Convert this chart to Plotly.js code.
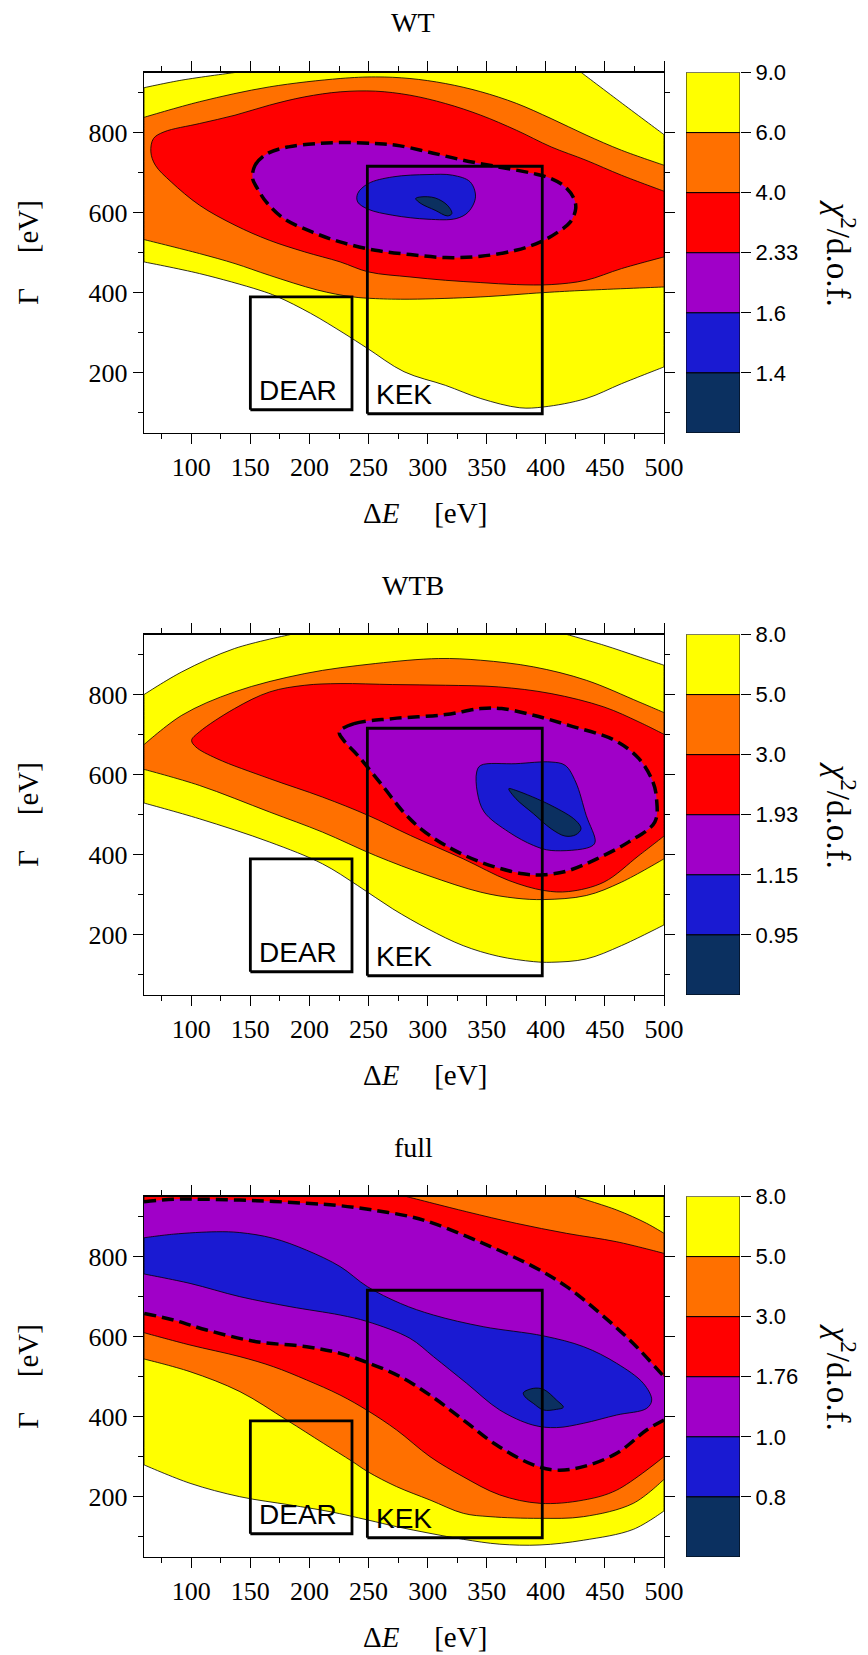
<!DOCTYPE html>
<html><head><meta charset="utf-8">
<script src="https://cdn.plot.ly/plotly-3.0.1.min.js"></script>
<style>html,body{margin:0;padding:0;background:#fff}#chart{width:868px;height:1655px}</style>
</head><body><div id="chart"></div>
<script>
// ---------------- data: contour boundaries (ΔE [eV], Γ [eV]) ----------------
const X_RANGE = [60, 500];
const Y_RANGE = [50, 950];

const PANEL_TITLES = ['WT', 'WTB', 'full'];
const LEVELS_WT   = ['9.0', '6.0', '4.0', '2.33', '1.6', '1.4'];
const LEVELS_WTB  = ['8.0', '5.0', '3.0', '1.93', '1.15', '0.95'];
const LEVELS_FULL = ['8.0', '5.0', '3.0', '1.76', '1.0', '0.8'];
// band colours from the highest level band down to the lowest
const BAND_COLORS = ['#ffff00', '#ff7000', '#ff0000', '#a000c8', '#1a1ad2', '#0b3060'];

const DEAR_X = [150, 236], DEAR_Y = [108, 390];
const KEK_X  = [249, 397], KEK_Y  = [98, 716];
const DEAR_LABEL = [156, 156], KEK_LABEL = [255, 147];

// ---- WT ----
const WT_Y_TOPLEFT  = [[60,912],[92,931],[137,950]];
const WT_Y_TOPRIGHT = [[430,950],[465,872],[500,795]];
const WT_Y_LOWER = [[500,215],[464,173],[434,136],[398,115],[378,113],[345,136],[315,169],[280,203],[249,261.4],[229.2,298.8],[201,348.7],[172.8,390.4],[157.3,407],[107,448],[60,477]];
const WT_O_UPPER = [[60,838],[107,877],[166,914],[226,935],[256,939],[285,935],[315,922.5],[345,902],[375,873],[404.5,835],[434,794],[464,756],[500,718.5]];
const WT_O_LOWER = [[500,414.6],[434,406.3],[398,400.5],[345,389.7],[285,384],[256,385.5],[236,390],[206.7,407],[166,443.8],[137,472.9],[107,497.9],[60,532.9]];
const WT_R = [[500,653.6],[464,693.6],[434,731],[404.5,764.3],[375,806],[345,843.4],[315,872.6],[285,893.4],[256,903.4],[226,901.7],[196,889.2],[166,868.4],[137,843.4],[107,822.6],[77,801.8],[68,785],[65.8,751.8],[69.6,718.5],[83,676.9],[107,618.6],[137,568.7],[166,531.2],[196,502.1],[226,477.1],[250,452.1],[285,439.6],[315,431.3],[345,425.5],[375,420.5],[404.5,420.5],[434,431.3],[464,460.4],[500,489.6]];
const WT_P = [[151.9,685.2],[154,718.5],[164.4,747.7],[182.2,764.3],[206,772.7],[229.8,775.2],[255.7,772.7],[273.5,768.5],[300.3,751.8],[330.1,731],[359.8,714.4],[389.6,697.7],[404.5,685.2],[416.4,664.4],[423.8,635.3],[425.3,610.3],[420.8,577],[410.4,552],[395.5,527],[374.7,506.2],[344.9,491.2],[315.2,487.9],[285.4,495.4],[255.7,506.2],[225.9,527],[202.1,552],[178.3,585.3],[163.4,626.9],[156,660.3]];
const WT_B = [[240.8,647.8],[249.7,672.7],[270.5,689.4],[300.3,695.2],[321.1,693.6],[336,676.9],[340.5,639.4],[334.5,602],[324.1,585.3],[300.3,583.7],[270.5,593.6],[249.7,608.6],[240.8,626.9]];
const WT_D = [[289.9,635.3],[294.3,639.4],[306.3,636.9],[316.7,618.6],[320.5,597.8],[316.7,592],[306.3,606.1],[294.3,622.8]];

// ---- WTB ----
const WTB_Y_TOPLEFT  = [[60,800],[92,856.7],[136.6,915],[184.2,950]];
const WTB_Y_TOPRIGHT = [[417.9,950],[449.1,923.3],[478.8,894.2],[500,873.3]];
const WTB_Y_LOWER = [[500,225],[464,173.3],[434.2,140],[404.5,131.7],[389.6,133.3],[359.8,146.7],[330,173.3],[300.3,215],[270.5,265],[240.8,323.3],[211,377.5],[166.4,431.7],[106.8,490],[60,529.2]];
const WTB_O_UPPER = [[60,675],[92,748.3],[136.6,806.7],[196.1,852.5],[255.7,877.5],[309.3,890],[344.9,885.8],[389.6,869.2],[434.2,835.8],[478.8,781.7],[500,755]];
const WTB_O_LOWER = [[500,390],[464,331.7],[434.2,298.3],[398.5,288.3],[374.7,291.7],[344.9,306.7],[300.3,348.3],[255.7,398.3],[211,456.7],[166.4,506.7],[106.8,573.3],[60,613.3]];
const WTB_R = [[500,700.8],[478.8,731.7],[449.1,769.2],[404.5,802.5],[359.8,819.2],[315.2,823.3],[270.5,825],[225.9,827.5],[196.1,823.3],[166.4,806.7],[136.6,765],[106.8,706.7],[100.3,685.8],[103.9,669.2],[121.7,640],[166.4,590],[211,544.2],[249.7,498.3],[285.4,448.3],[330,390],[368.7,335.8],[398.5,310.8],[419.4,308.3],[449.1,331.7],[478.8,398.3],[500,446.7]];
const WTB_P = [[225.3,706.7],[237.8,727.5],[270.5,740],[315.2,750],[344.9,765],[362.7,765],[389.6,748.3],[419.4,723.3],[458.2,685.8],[478.8,640],[490.7,581.7],[493.7,540],[492.2,481.7],[469.9,431.7],[443.2,390],[419.4,360.8],[398.5,350],[380.7,352.5],[344.9,381.7],[315.2,423.3],[294.3,465],[279.5,506.7],[261.6,573.3],[240.8,648.3],[228.9,685.8]];
const WTB_B = [[341.5,606.7],[344.9,623.3],[374.7,627.5],[404.5,631.7],[416.4,623.3],[425.3,581.7],[434.2,498.3],[441.7,431.7],[437.2,419.2],[404.5,410.8],[389.6,423.3],[368.7,456.7],[347.9,506.7],[342,556.7]];
const WTB_D = [[368.7,565],[374.7,560.8],[404.5,523.3],[425.3,485.8],[429.8,465],[425.3,450],[416.4,446.7],[404.5,465],[389.6,502.5],[374.7,540]];

// ---- full ----
const FULL_Y_LOWER = [[500,165],[474,119],[432,92],[395,80],[361,82],[330.2,94.1],[302,109.1],[273.8,125.7],[249.3,142.4],[217.4,163.2],[183.5,180],[141,200.6],[99,234],[60,280]];
const FULL_O_TOPRIGHT = [[424.7,950],[460,916.3],[485.3,883],[500,858]];
const FULL_O_LOWER = [[500,244],[474,184],[432,150.7],[395,146.5],[352.8,150.7],[330.2,159],[302,192.3],[273.8,225.6],[249.3,263],[236,289],[211.8,333.8],[180.7,392],[141.2,462.8],[98.9,512.7],[60,544.3]];
const FULL_R_UPPER = [[282,950],[333,912],[375,883],[417.6,858],[460,837],[500,808]];
const FULL_R_LOWER = [[500,300.5],[460,217],[431.7,192],[395,184],[361,205],[330,250.6],[302,300.5],[273.8,367],[249.3,415.3],[225.9,454.4],[197.6,491.9],[169.4,525.2],[141.2,550.1],[98.9,579.3],[60,610]];
const FULL_P_UPPER = [[60,937],[85,943],[113,943],[155,939.6],[197.6,933],[225.9,927],[254,916],[285,900],[305,883],[347,833],[389.4,775],[417.6,725],[446,658],[474,583],[500,500]];
const FULL_P_LOWER = [[500,392],[485.3,367],[460,309],[431.7,275.5],[409,267],[389.4,280],[358,330],[332,388],[304,450],[277,500],[249.3,535],[226,558.5],[197.6,575],[155,587.6],[113,616.7],[85,641.7],[60,658.3]];
const FULL_B = [[60,847],[85,856],[121.5,862],[141,860],[169,846],[197.6,816],[226,775],[249,725],[277,683],[305,654],[347,625],[398,602],[432,575],[460,533.5],[482.5,483.6],[489.6,442],[485.3,421],[460,404.5],[431.7,383.7],[409,373],[389,379.5],[361,417],[333,483.6],[305,550],[285,596],[249.3,637.5],[226,654],[183.5,675],[141,700],[99,733],[60,756.5]];
const FULL_D = [[381,460],[389.4,471],[398,468.6],[409,442],[414.8,423.7],[409,418.6],[398,417],[389.4,433.6],[382.4,450]];

const TL = [[X_RANGE[0], Y_RANGE[1]]], TR = [[X_RANGE[1], Y_RANGE[1]]];

// ---------------- panel definitions (regions from outermost to innermost) ----------------
const PANELS = [
  { levels: LEVELS_WT, regions: [
      {pieces:[WT_Y_TOPLEFT, WT_Y_TOPRIGHT, WT_Y_LOWER]},
      {pieces:[WT_O_UPPER, WT_O_LOWER]},
      {pieces:[WT_R]},
      {pieces:[WT_P], closed:true, dashed:[WT_P]},
      {pieces:[WT_B], closed:true},
      {pieces:[WT_D], closed:true}]},
  { levels: LEVELS_WTB, regions: [
      {pieces:[WTB_Y_TOPLEFT, WTB_Y_TOPRIGHT, WTB_Y_LOWER]},
      {pieces:[WTB_O_UPPER, WTB_O_LOWER]},
      {pieces:[WTB_R]},
      {pieces:[WTB_P], closed:true, dashed:[WTB_P]},
      {pieces:[WTB_B], closed:true},
      {pieces:[WTB_D], closed:true}]},
  { levels: LEVELS_FULL, regions: [
      {pieces:[TL, TR, FULL_Y_LOWER]},
      {pieces:[TL, FULL_O_TOPRIGHT, FULL_O_LOWER]},
      {pieces:[TL, FULL_R_UPPER, FULL_R_LOWER]},
      {pieces:[FULL_P_UPPER, FULL_P_LOWER], dashedOpen:[FULL_P_UPPER, FULL_P_LOWER]},
      {pieces:[FULL_B]},
      {pieces:[FULL_D], closed:true}]}
];

// ---------------- geometry (pixels) ----------------
const W = 868, H = 1655;
const PLOT_L = 144, PLOT_R = 664, PLOT_H = 360.5;
const PLOT_TOPS = [72.5, 634.5, 1196.5];
const CB_L = 686, CB_R = 740;
const SERIF = 'Liberation Serif';
const SANS = 'Liberation Sans';

function buildPoly(pieces, closed) {
  const xs = [], ys = [];
  if (closed) {
    const c = pieces[0];
    c.forEach(p => { xs.push(p[0]); ys.push(p[1]); });
    xs.push(c[0][0]); ys.push(c[0][1]);
    return {xs, ys};
  }
  pieces.forEach(c => {
    c.forEach((p, i) => {
      xs.push(p[0]); ys.push(p[1]);
      if (i === 0 || i === c.length - 1) { xs.push(p[0]); ys.push(p[1]); }
    });
  });
  xs.push(xs[0]); ys.push(ys[0]);
  return {xs, ys};
}

const traces = [];
const layout = {
  width: W, height: H, margin: {l:0, r:0, t:0, b:0},
  paper_bgcolor: '#fff', plot_bgcolor: '#fff', showlegend: false,
  annotations: [], shapes: []
};
const DASH = {color:'#000', width:3.5, dash:'12px,6px', shape:'spline', smoothing:1, simplify:false};

PANELS.forEach((panel, k) => {
  const n = k + 1;
  const xa = n === 1 ? 'x' : 'x' + n, ya = n === 1 ? 'y' : 'y' + n;
  const top = PLOT_TOPS[k];
  const yDom = [1 - (top + PLOT_H) / H, 1 - top / H];

  panel.regions.forEach((reg, j) => {
    const poly = buildPoly(reg.pieces, reg.closed);
    const isDashedRegion = !!(reg.dashed || reg.dashedOpen);
    traces.push({type:'scatter', mode:'lines', x:poly.xs, y:poly.ys, fill:'toself',
      fillcolor: BAND_COLORS[j],
      line:{color: isDashedRegion ? BAND_COLORS[j] : '#000', width: isDashedRegion ? 0 : 0.8, shape:'spline', smoothing:1, simplify:false},
      xaxis:xa, yaxis:ya, hoverinfo:'skip'});
    if (reg.dashed) {
      reg.dashed.forEach(c => {
        const p = buildPoly([c], true);
        traces.push({type:'scatter', mode:'lines', x:p.xs, y:p.ys, line:DASH, xaxis:xa, yaxis:ya, hoverinfo:'skip'});
      });
    }
    if (reg.dashedOpen) {
      reg.dashedOpen.forEach(c => {
        traces.push({type:'scatter', mode:'lines', x:c.map(p=>p[0]), y:c.map(p=>p[1]), line:DASH, xaxis:xa, yaxis:ya, hoverinfo:'skip'});
      });
    }
  });

  // experimental boxes
  [[DEAR_X, DEAR_Y], [KEK_X, KEK_Y]].forEach(([bx, by]) => {
    traces.push({type:'scatter', mode:'lines',
      x:[bx[0], bx[1], bx[1], bx[0], bx[0]], y:[by[0], by[0], by[1], by[1], by[0]],
      line:{color:'#000', width:2.8}, xaxis:xa, yaxis:ya, hoverinfo:'skip', cliponaxis:false});
  });
  layout.annotations.push(
    {x:DEAR_LABEL[0], y:DEAR_LABEL[1], xref:xa, yref:ya, text:'DEAR', showarrow:false, xanchor:'left', yanchor:'middle', font:{family:SANS, size:28, color:'#000'}},
    {x:KEK_LABEL[0], y:KEK_LABEL[1], xref:xa, yref:ya, text:'KEK', showarrow:false, xanchor:'left', yanchor:'middle', font:{family:SANS, size:28, color:'#000'}}
  );

  const axCommon = {showline:true, linecolor:'#000', linewidth:1.4, mirror:'allticks', ticks:'outside',
    tickcolor:'#000', tickwidth:1, ticklen:10, showgrid:false, zeroline:false,
    tickfont:{family:SERIF, size:26, color:'#000'}, fixedrange:true};
  layout[n === 1 ? 'xaxis' : 'xaxis' + n] = Object.assign({}, axCommon, {
    domain:[PLOT_L / W, PLOT_R / W], anchor: ya, range: X_RANGE, tick0:0, dtick:50,
    minor:{dtick:25, tick0:0, ticklen:5, tickcolor:'#000', tickwidth:1, ticks:'outside', showgrid:false}});
  layout[n === 1 ? 'yaxis' : 'yaxis' + n] = Object.assign({}, axCommon, {
    domain:yDom, anchor: xa, range: Y_RANGE, tick0:0, dtick:200,
    minor:{dtick:100, tick0:0, ticklen:5, tickcolor:'#000', tickwidth:1, ticks:'outside', showgrid:false}});

  // colour key
  const cn = n + 3;
  const cxa = 'x' + cn, cya = 'y' + cn;
  const nb = BAND_COLORS.length;
  traces.push({type:'bar', x:BAND_COLORS.map(() => 0), y:BAND_COLORS.map(() => 1),
    base:BAND_COLORS.map((c, i) => nb - 1 - i), width:1,
    marker:{color:BAND_COLORS, line:{color:'#000', width:1}},
    xaxis:cxa, yaxis:cya, hoverinfo:'skip', cliponaxis:false});
  layout['xaxis' + cn] = {domain:[CB_L / W, CB_R / W], anchor:cya, range:[-0.5, 0.5], visible:false, fixedrange:true};
  layout['yaxis' + cn] = {domain:yDom, anchor:cxa, side:'right', range:[0, nb],
    tickvals: panel.levels.map((l, i) => nb - i), ticktext: panel.levels,
    ticks:'outside', ticklen:10, tickcolor:'#000', tickwidth:1, showgrid:false, zeroline:false, showline:false,
    tickfont:{family:SANS, size:22, color:'#000'}, fixedrange:true};

  // titles
  layout.annotations.push(
    {x:413 / W, y:1 - (top - 49.5) / H, xref:'paper', yref:'paper', text:PANEL_TITLES[k], showarrow:false,
     xanchor:'center', yanchor:'middle', font:{family:SERIF, size:28, color:'#000'}},
    {x:425 / W, y:1 - (top + PLOT_H + 80) / H, xref:'paper', yref:'paper', text:'Δ<i>E</i>\u2003\u2009[eV]', showarrow:false,
     xanchor:'center', yanchor:'middle', font:{family:SERIF, size:29, color:'#000'}},
    {x:28 / W, y:1 - (top + PLOT_H / 2) / H, xref:'paper', yref:'paper', text:'Γ\u2003\u2009[eV]', showarrow:false, textangle:-90,
     xanchor:'center', yanchor:'middle', font:{family:SERIF, size:29, color:'#000'}},
    {x:841 / W, y:1 - (top + PLOT_H / 2) / H, xref:'paper', yref:'paper', text:'<i>χ</i><sup>2</sup>/d.o.f.', showarrow:false, textangle:90,
     xanchor:'center', yanchor:'middle', font:{family:SERIF, size:33, color:'#000'}}
  );
});

layout.barmode = 'overlay';
Plotly.newPlot('chart', traces, layout, {staticPlot:true, displayModeBar:false});
</script></body></html>
